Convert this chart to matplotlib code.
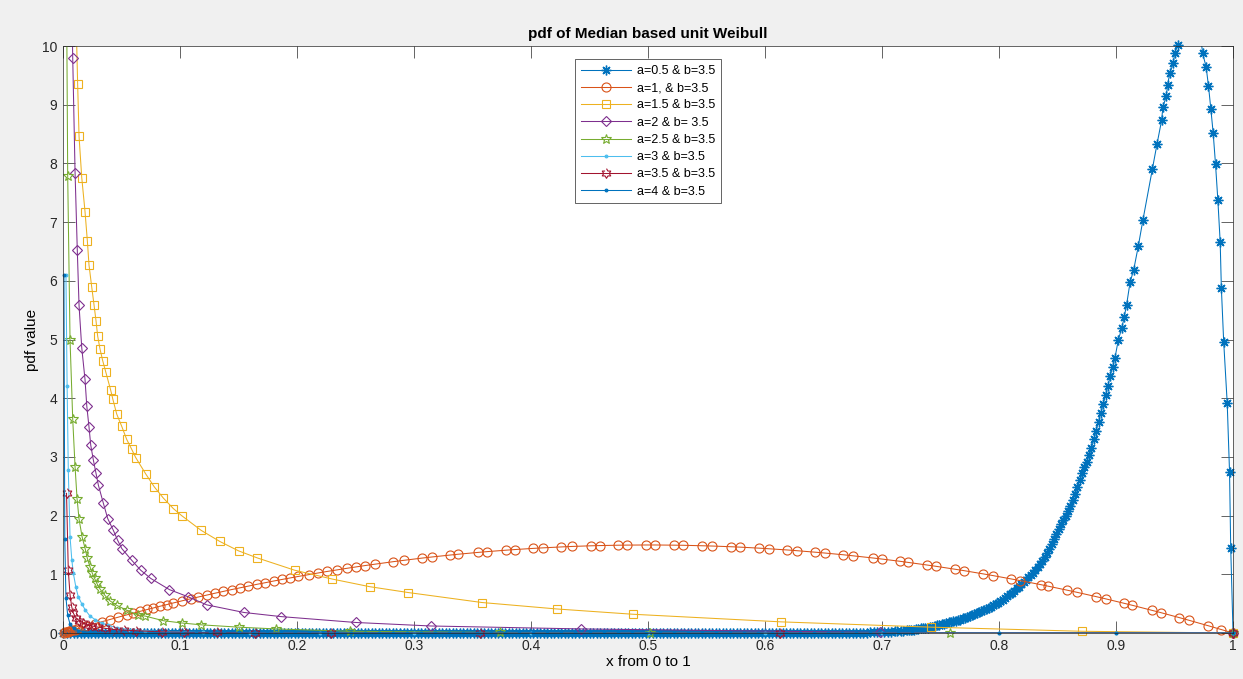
import numpy as np
import matplotlib.pyplot as plt
from matplotlib.lines import Line2D

plt.rcParams['font.family'] = ['Liberation Sans', 'DejaVu Sans']

# ---- data ----
# a=0.5 & b=3.5 : flat stretch along zero (markers packed tight), then the spike near x=1
a05_flat_x = [0.000, 0.003, 0.006, 0.009, 0.012, 0.015, 0.018, 0.021, 0.024, 0.027, 0.030, 0.033, 0.036, 0.039, 0.042, 0.045, 0.048, 0.051, 0.054, 0.057,
              0.060, 0.063, 0.066, 0.069, 0.072, 0.075, 0.078, 0.081, 0.084, 0.087, 0.090, 0.093, 0.096, 0.099, 0.102, 0.105, 0.108, 0.111, 0.114, 0.117,
              0.120, 0.123, 0.126, 0.129, 0.132, 0.135, 0.138, 0.141, 0.144, 0.147, 0.150, 0.153, 0.156, 0.159, 0.162, 0.165, 0.168, 0.171, 0.174, 0.177,
              0.180, 0.183, 0.186, 0.189, 0.192, 0.195, 0.198, 0.201, 0.204, 0.207, 0.210, 0.213, 0.216, 0.219, 0.222, 0.225, 0.228, 0.231, 0.234, 0.237,
              0.240, 0.243, 0.246, 0.249, 0.252, 0.255, 0.258, 0.261, 0.264, 0.267, 0.270, 0.273, 0.276, 0.279, 0.282, 0.285, 0.288, 0.291, 0.294, 0.297,
              0.300, 0.303, 0.306, 0.309, 0.312, 0.315, 0.318, 0.321, 0.324, 0.327, 0.330, 0.333, 0.336, 0.339, 0.342, 0.345, 0.348, 0.351, 0.354, 0.357,
              0.360, 0.363, 0.366, 0.369, 0.372, 0.375, 0.378, 0.381, 0.384, 0.387, 0.390, 0.393, 0.396, 0.399, 0.402, 0.405, 0.408, 0.411, 0.414, 0.417,
              0.420, 0.423, 0.426, 0.429, 0.432, 0.435, 0.438, 0.441, 0.444, 0.447, 0.450, 0.453, 0.456, 0.459, 0.462, 0.465, 0.468, 0.471, 0.474, 0.477,
              0.480, 0.483, 0.486, 0.489, 0.492, 0.495, 0.498, 0.501, 0.504, 0.507, 0.510, 0.513, 0.516, 0.519, 0.522, 0.525, 0.528, 0.531, 0.534, 0.537,
              0.540, 0.543, 0.546, 0.549, 0.552, 0.555, 0.558, 0.561, 0.564, 0.567, 0.570, 0.573, 0.576, 0.579, 0.582, 0.585, 0.588, 0.591, 0.594, 0.597,
              0.600, 0.603, 0.606, 0.609, 0.612, 0.615, 0.618, 0.621, 0.624, 0.627, 0.630, 0.633, 0.636, 0.639, 0.642, 0.645, 0.648, 0.651, 0.654, 0.657,
              0.660, 0.663, 0.666, 0.669, 0.672, 0.675, 0.678, 0.681, 0.684, 0.687]
a05_flat_y = [0, 0, 0, 0, 0, 0, 0, 0, 0, 0, 0, 0, 0, 0, 0, 0, 0, 0, 0, 0, 0, 0, 0, 0, 0, 0, 0, 0, 0, 0, 0, 0, 0, 0, 0, 0, 0, 0, 0, 0, 0, 0, 0, 0, 0, 0,
              0, 0, 0, 0, 0, 0, 0, 0, 0, 0, 0, 0, 0, 0, 0, 0, 0, 0, 0, 0, 0, 0, 0, 0, 0, 0, 0, 0, 0, 0, 0, 0, 0, 0, 0, 0, 0, 0, 0, 0, 0, 0, 0, 0, 0, 0,
              0, 0, 0, 0, 0, 0, 0, 0, 0, 0, 0, 0, 0, 0, 0, 0, 0, 0, 0, 0, 0, 0, 0, 0, 0, 0, 0, 0, 0, 0, 0, 0, 0, 0, 0, 0, 0, 0, 0, 0, 0, 0, 0, 0, 0, 0,
              0, 0, 0, 0, 0, 0, 0, 0, 0, 0, 0, 0, 0, 0, 0, 0, 0, 0, 0, 0, 0, 0, 0, 0, 0, 0, 0, 0, 0, 0, 0, 0, 0, 0, 0, 0, 0, 0, 0, 0, 0, 0, 0, 0, 0, 0,
              0, 0, 0, 0, 0, 0, 0, 0, 0, 0, 0, 0, 0, 0, 0, 0, 0, 0, 0, 0, 0, 0, 0, 0, 0, 0, 0, 0, 0, 0, 0, 0, 0, 0, 0, 0, 0, 0, 0, 0, 0, 0, 0, 0, 0, 0]
a05_peak_x = [0.690, 0.693, 0.696, 0.699, 0.702, 0.705, 0.708, 0.711, 0.713, 0.716, 0.718, 0.721,
              0.723, 0.725, 0.727, 0.729, 0.731, 0.733, 0.735, 0.737, 0.739, 0.741, 0.743, 0.745,
              0.747, 0.749, 0.751, 0.753, 0.755, 0.757, 0.759, 0.761, 0.763, 0.765, 0.767, 0.769,
              0.771, 0.773, 0.775, 0.777, 0.779, 0.781, 0.783, 0.785, 0.787, 0.789, 0.791, 0.793,
              0.795, 0.797, 0.799, 0.801, 0.803, 0.805, 0.807, 0.809, 0.811, 0.813, 0.815, 0.817,
              0.819, 0.821, 0.823, 0.825, 0.827, 0.829, 0.831, 0.833, 0.835, 0.837, 0.839, 0.841,
              0.843, 0.845, 0.847, 0.849, 0.851, 0.853, 0.855, 0.857, 0.859, 0.861, 0.863, 0.865,
              0.867, 0.869, 0.871, 0.873, 0.875, 0.877, 0.879, 0.881, 0.883, 0.885, 0.887, 0.889,
              0.891, 0.893, 0.895, 0.897, 0.899, 0.902, 0.905, 0.907, 0.909, 0.912, 0.915, 0.919,
              0.923, 0.931, 0.935, 0.939, 0.940, 0.943, 0.944, 0.946, 0.949, 0.950, 0.953, 0.957,
              0.961, 0.965, 0.969, 0.972, 0.974, 0.977, 0.979, 0.981, 0.983, 0.985, 0.987, 0.989,
              0.990, 0.992, 0.995, 0.997, 0.998, 1.000]
a05_peak_y = [0.01, 0.01, 0.01, 0.02, 0.02, 0.02, 0.02, 0.03, 0.03, 0.04, 0.04, 0.05,
              0.05, 0.06, 0.06, 0.07, 0.07, 0.08, 0.08, 0.09, 0.09, 0.10, 0.11, 0.12,
              0.13, 0.14, 0.15, 0.16, 0.17, 0.18, 0.19, 0.20, 0.21, 0.22, 0.23, 0.25,
              0.26, 0.28, 0.29, 0.31, 0.32, 0.34, 0.35, 0.37, 0.39, 0.41, 0.43, 0.45,
              0.47, 0.50, 0.52, 0.55, 0.57, 0.60, 0.63, 0.66, 0.69, 0.72, 0.76, 0.79,
              0.83, 0.87, 0.91, 0.95, 0.99, 1.03, 1.07, 1.12, 1.17, 1.23, 1.30, 1.37,
              1.44, 1.52, 1.60, 1.68, 1.77, 1.85, 1.93, 2.00, 2.08, 2.17, 2.26, 2.37,
              2.48, 2.60, 2.72, 2.82, 2.92, 3.03, 3.15, 3.30, 3.45, 3.60, 3.75, 3.90,
              4.05, 4.21, 4.38, 4.53, 4.68, 5.00, 5.20, 5.39, 5.59, 5.98, 6.18, 6.59,
              7.04, 7.90, 8.33, 8.74, 8.96, 9.15, 9.34, 9.54, 9.71, 9.88, 10.02, 10.3,
              10.5, 10.6, 10.45, 10.2, 9.88, 9.64, 9.32, 8.93, 8.52, 7.99, 7.38, 6.66,
              5.88, 4.96, 3.92, 2.74, 1.45, 0.0]

# a=1 & b=3.5
a1_x = [0.001, 0.002, 0.003, 0.004, 0.005, 0.006, 0.008, 0.010, 0.012, 0.020, 0.027, 0.033,
        0.040, 0.047, 0.055, 0.060, 0.066, 0.072, 0.077, 0.083, 0.089, 0.094, 0.102, 0.109,
        0.115, 0.123, 0.130, 0.137, 0.144, 0.151, 0.158, 0.166, 0.173, 0.180, 0.187, 0.194,
        0.201, 0.210, 0.218, 0.226, 0.234, 0.243, 0.250, 0.258, 0.267, 0.282, 0.291, 0.307,
        0.315, 0.331, 0.338, 0.355, 0.362, 0.379, 0.386, 0.402, 0.410, 0.426, 0.435, 0.451,
        0.459, 0.474, 0.482, 0.498, 0.506, 0.522, 0.530, 0.546, 0.555, 0.571, 0.579, 0.595,
        0.603, 0.619, 0.627, 0.643, 0.651, 0.667, 0.675, 0.692, 0.700, 0.715, 0.722, 0.738,
        0.746, 0.762, 0.770, 0.786, 0.795, 0.810, 0.818, 0.836, 0.842, 0.858, 0.867, 0.883,
        0.891, 0.907, 0.914, 0.931, 0.938, 0.954, 0.962, 0.979, 0.990, 1.000]
a1_y = [0.006, 0.012, 0.018, 0.024, 0.030, 0.036, 0.048, 0.059, 0.071, 0.118, 0.158, 0.191,
        0.230, 0.269, 0.312, 0.338, 0.370, 0.401, 0.426, 0.457, 0.486, 0.511, 0.550, 0.583,
        0.611, 0.647, 0.679, 0.709, 0.740, 0.769, 0.798, 0.831, 0.858, 0.886, 0.912, 0.938,
        0.964, 0.995, 1.023, 1.050, 1.075, 1.104, 1.125, 1.149, 1.174, 1.215, 1.238, 1.277,
        1.295, 1.329, 1.343, 1.374, 1.386, 1.412, 1.422, 1.442, 1.451, 1.467, 1.475, 1.486,
        1.490, 1.496, 1.498, 1.500, 1.500, 1.497, 1.495, 1.487, 1.482, 1.470, 1.463, 1.446,
        1.436, 1.415, 1.403, 1.377, 1.363, 1.333, 1.316, 1.279, 1.260, 1.223, 1.204, 1.160,
        1.137, 1.088, 1.063, 1.009, 0.978, 0.923, 0.893, 0.823, 0.798, 0.731, 0.692, 0.620,
        0.583, 0.506, 0.472, 0.385, 0.349, 0.263, 0.219, 0.123, 0.059, 0.0]

# a=1.5 & b=3.5
a15_x = [0.009, 0.0108, 0.0125, 0.0137, 0.016, 0.0188, 0.0208, 0.0222, 0.0245, 0.0265, 0.0282,
         0.0296, 0.0316, 0.0339, 0.0365, 0.0407, 0.0425, 0.0459, 0.0502, 0.0544, 0.0587, 0.0621,
         0.0707, 0.078, 0.0857, 0.0943, 0.1014, 0.118, 0.134, 0.150, 0.166, 0.198, 0.230, 0.262,
         0.295, 0.358, 0.422, 0.487, 0.614, 0.742, 0.871, 1.0]
a15_y = [13.0, 10.8, 9.35, 8.46, 7.76, 7.18, 6.68, 6.27, 5.90, 5.59, 5.32,
         5.06, 4.84, 4.64, 4.45, 4.14, 3.99, 3.73, 3.52, 3.30, 3.13, 2.99,
         2.71, 2.49, 2.30, 2.12, 2.00, 1.75, 1.56, 1.40, 1.28, 1.07, 0.92, 0.79,
         0.69, 0.52, 0.41, 0.32, 0.19, 0.10, 0.03, 0.0]

# a=2 & b=3.5
a2_x = [0.0065, 0.0083, 0.0103, 0.0122, 0.0137, 0.016, 0.0188, 0.0203, 0.0222, 0.0237, 0.0259,
        0.0282, 0.0302, 0.0345, 0.0382, 0.043, 0.0467, 0.0502, 0.0587, 0.0664, 0.075, 0.0909,
        0.1066, 0.1228, 0.1547, 0.1863, 0.250, 0.3145, 0.4425, 0.698, 1.0]
a2_y = [12.0, 9.79, 7.84, 6.52, 5.58, 4.86, 4.32, 3.87, 3.51, 3.20, 2.95,
        2.72, 2.52, 2.21, 1.95, 1.75, 1.58, 1.44, 1.24, 1.07, 0.93, 0.74,
        0.62, 0.48, 0.35, 0.28, 0.18, 0.12, 0.07, 0.01, 0.0]

# a=2.5 & b=3.5
a25_x = [0.003, 0.004, 0.006, 0.0083, 0.0103, 0.0120, 0.0137, 0.0163, 0.0190, 0.0208, 0.023,
         0.025, 0.027, 0.0288, 0.0316, 0.0359, 0.040, 0.046, 0.0544, 0.0638, 0.070, 0.0857,
         0.102, 0.118, 0.150, 0.182, 0.245, 0.3735, 0.502, 0.758, 1.0]
a25_y = [11.0, 7.78, 4.99, 3.64, 2.83, 2.29, 1.94, 1.64, 1.43, 1.27, 1.13,
         1.02, 0.93, 0.85, 0.75, 0.64, 0.55, 0.47, 0.39, 0.31, 0.29, 0.21,
         0.17, 0.14, 0.10, 0.07, 0.03, 0.01, 0.0, 0.0, 0.0]

# a=3 & b=3.5
a3_x = [0.0025, 0.0035, 0.0045, 0.006, 0.0075, 0.0088, 0.011, 0.013, 0.016, 0.0188, 0.023,
        0.0274, 0.033, 0.0387, 0.046, 0.0558, 0.070, 0.090, 0.120, 0.160, 0.220, 0.300,
        0.400, 0.500, 0.600, 0.700, 0.800, 0.900, 1.0]
a3_y = [6.1, 4.2, 2.78, 1.64, 1.25, 1.02, 0.78, 0.62, 0.50, 0.40, 0.29,
        0.23, 0.17, 0.13, 0.09, 0.06, 0.04, 0.02, 0.01, 0.0, 0.0, 0.0,
        0.0, 0.0, 0.0, 0.0, 0.0, 0.0, 0.0]

# a=3.5 & b=3.5
a35_x = [0.003, 0.0045, 0.006, 0.0074, 0.0088, 0.011, 0.014, 0.017, 0.021, 0.025, 0.030,
         0.036, 0.043, 0.052, 0.062, 0.085, 0.103, 0.132, 0.164, 0.229, 0.356, 0.613, 1.0]
a35_y = [2.38, 1.07, 0.65, 0.45, 0.34, 0.26, 0.21, 0.17, 0.14, 0.12, 0.10,
         0.08, 0.06, 0.05, 0.04, 0.02, 0.01, 0.01, 0.0, 0.0, 0.0, 0.0, 0.0]

# a=4 & b=3.5
a4_x = [0.0008, 0.0015, 0.0025, 0.004, 0.006, 0.009, 0.013, 0.018, 0.024,
        0.030, 0.042, 0.054, 0.066, 0.078, 0.090, 0.102, 0.114, 0.126, 0.138, 0.150, 0.162,
        0.174, 0.186, 0.198, 0.210, 0.222, 0.234, 0.246, 0.258, 0.270, 0.282, 0.294, 0.306,
        0.318, 0.330, 0.342, 0.354, 0.366, 0.378, 0.390, 0.402, 0.414, 0.426, 0.438, 0.450,
        0.462, 0.474, 0.486, 0.498, 0.510, 0.522, 0.534, 0.546, 0.558, 0.570, 0.582, 0.594,
        0.606, 0.618, 0.630, 0.642, 0.654, 0.666, 0.678, 0.690, 0.702, 0.714, 0.726,
        0.800, 0.900, 1.0]
a4_y = [6.1, 1.6, 0.6, 0.3, 0.15, 0.08, 0.04, 0.02, 0.01,
        0, 0, 0, 0, 0, 0, 0, 0, 0, 0, 0, 0,
        0, 0, 0, 0, 0, 0, 0, 0, 0, 0, 0, 0,
        0, 0, 0, 0, 0, 0, 0, 0, 0, 0, 0, 0,
        0, 0, 0, 0, 0, 0, 0, 0, 0, 0, 0, 0,
        0, 0, 0, 0, 0, 0, 0, 0, 0, 0, 0,
        0, 0, 0]

labels = ['a=0.5 & b=3.5', 'a=1, & b=3.5', 'a=1.5 & b=3.5', 'a=2 & b= 3.5',
          'a=2.5 & b=3.5', 'a=3 & b=3.5', 'a=3.5 & b=3.5', 'a=4 & b=3.5']

# matlab default colour order
c_blue, c_orange, c_yellow = '#0072BD', '#D95319', '#EDB120'
c_purple, c_green, c_cyan, c_red = '#7E2F8E', '#77AC30', '#4DBEEE', '#A2142F'

# hexagram marker (matlab 'h')
ang = np.deg2rad(np.arange(12) * 30)
rad = np.where(np.arange(12) % 2 == 0, 1.0, 0.58)
hexagram = list(zip(rad * np.sin(ang), rad * np.cos(ang)))

fig = plt.figure(figsize=(12.43, 6.79), dpi=100, facecolor='#F0F0F0')
ax = fig.add_axes([0.0507, 0.0677, 0.9413, 0.8645])
handles = []


def draw(x, y, color, marker, ms, face='none', mew=0.8):
    x = np.asarray(x, dtype=float)
    y = np.asarray(y, dtype=float)
    ax.plot(x, y, color=color, lw=0.75)
    keep = y <= 10.05
    ax.plot(x[keep], y[keep], ls='none', marker=marker, ms=ms, mfc=face,
            mec=color, mew=mew, clip_on=False)
    handles.append(Line2D([], [], color=color, lw=0.75, marker=marker, ms=ms,
                          mfc=face, mec=color, mew=mew))


draw(a05_flat_x + a05_peak_x, a05_flat_y + a05_peak_y, c_blue, (8, 2, 0), 7, mew=1.0)
draw(a1_x, a1_y, c_orange, 'o', 6.5)
draw(a15_x, a15_y, c_yellow, 's', 6)
draw(a2_x, a2_y, c_purple, 'D', 5.5)
draw(a25_x, a25_y, c_green, '*', 7.5)
draw(a3_x, a3_y, c_cyan, '.', 4, face=c_cyan)
draw(a35_x, a35_y, c_red, hexagram, 7)
draw(a4_x, a4_y, c_blue, '.', 4, face=c_blue)

ax.set_xlim(0, 1)
ax.set_ylim(0, 10)
xt = np.round(np.arange(0, 1.01, 0.1), 1)
ax.set_xticks(xt)
ax.set_xticklabels(['0'] + ['%.1f' % v for v in xt[1:-1]] + ['1'])
ax.set_yticks(range(11))
ax.tick_params(direction='in', length=8.6, width=0.5, top=True, right=True,
               colors='#262626', labelsize=10, pad=4)
for s in ax.spines.values():
    s.set_color('#262626')
    s.set_linewidth(0.5)

ax.set_title('pdf of Median based unit Weibull', fontsize=11, fontweight='bold', pad=6)
ax.set_xlabel('x from 0 to 1', fontsize=11, labelpad=2)
ax.set_ylabel('pdf value', fontsize=11, labelpad=2)

leg = ax.legend(handles, labels, loc='upper center', bbox_to_anchor=(0.5, 0.988),
                fontsize=9, fancybox=False, framealpha=1, edgecolor='#262626',
                handlelength=4.0, labelspacing=0.42, borderpad=0.45, handletextpad=0.5)
leg.get_frame().set_linewidth(0.5)

fig.savefig('out.png', dpi=100, facecolor=fig.get_facecolor())
